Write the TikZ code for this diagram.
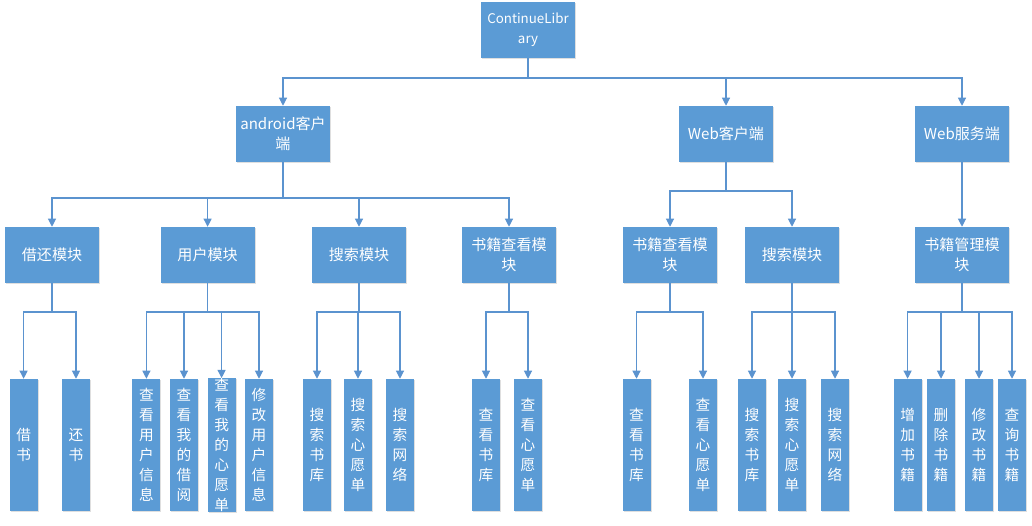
\documentclass[tikz,border=0pt]{standalone}
\usepackage{fontspec}
\setmainfont{Noto Sans CJK SC}
\usetikzlibrary{arrows.meta,shadows}
\definecolor{boxblue}{HTML}{5B9BD5}
\definecolor{lineblue}{HTML}{5B93CF}
\tikzset{
  box/.style={draw=none, fill=boxblue, text=white, inner sep=0pt, align=center,
    minimum width=70.5pt, minimum height=42pt,
    font=\fontsize{11.3}{15}\selectfont,
    drop shadow={shadow xshift=0.8pt, shadow yshift=-0.8pt, opacity=0.25, fill=black!50}},
  leaf/.style={box, minimum width=21pt, minimum height=99pt,
    font=\fontsize{11}{15}\selectfont},
  conn/.style={draw=lineblue, line width=0.8pt},
  arr/.style={conn, -{Triangle[length=6pt,width=6pt]}}
}
\begin{document}
\begin{tikzpicture}[x=0.75pt, y=-0.75pt]
\useasboundingbox (0,0) rectangle (1032,525);
% level 0 and 1
\node[box, font=\fontsize{10}{15}\selectfont] (root) at (528,30) {ContinueLibr\\ary};
\node[box] (and) at (283,134) {android客户\\端};
\node[box] (wc) at (726,134) {Web客户端};
\node[box] (ws) at (962,134) {Web服务端};
% level 2
\node[box] (a1) at (52,255) {借还模块};
\node[box] (a2) at (207.6,255) {用户模块};
\node[box] (a3) at (359,255) {搜索模块};
\node[box] (a4) at (509,255) {书籍查看模\\块};
\node[box] (w1) at (670,255) {书籍查看模\\块};
\node[box] (w2) at (792,255) {搜索模块};
\node[box] (s1) at (962,255) {书籍管理模\\块};
% leaves
\node[leaf] (l1) at (23.6,445) {借\\书};
\node[leaf] (l2) at (76,445) {还\\书};
\node[leaf] (l3) at (146.4,445) {查\\看\\用\\户\\信\\息};
\node[leaf] (l4) at (184,445) {查\\看\\我\\的\\借\\阅};
\node[leaf] (l5) at (221.6,445) {查\\看\\我\\的\\心\\愿\\单};
\node[leaf] (l6) at (259,445) {修\\改\\用\\户\\信\\息};
\node[leaf] (l7) at (317,445) {搜\\索\\书\\库};
\node[leaf] (l8) at (358,445) {搜\\索\\心\\愿\\单};
\node[leaf] (l9) at (400,445) {搜\\索\\网\\络};
\node[leaf] (l10) at (486,445) {查\\看\\书\\库};
\node[leaf] (l11) at (528,445) {查\\看\\心\\愿\\单};
\node[leaf] (l12) at (636.5,445) {查\\看\\书\\库};
\node[leaf] (l13) at (703,445) {查\\看\\心\\愿\\单};
\node[leaf] (l14) at (752,445) {搜\\索\\书\\库};
\node[leaf] (l15) at (792,445) {搜\\索\\心\\愿\\单};
\node[leaf] (l16) at (835,445) {搜\\索\\网\\络};
\node[leaf] (l17) at (907.6,445) {增\\加\\书\\籍};
\node[leaf] (l18) at (941,445) {删\\除\\书\\籍};
\node[leaf] (l19) at (979,445) {修\\改\\书\\籍};
\node[leaf] (l20) at (1012,445) {查\\询\\书\\籍};
% junctions
\coordinate (j0) at (528,78);
\coordinate (ja) at (283,198);
\coordinate (jw) at (726,191);
\coordinate (ja1) at (52,312);
\coordinate (ja2) at (207.6,312);
\coordinate (ja3) at (359,312);
\coordinate (ja4) at (509,312);
\coordinate (jw1) at (670,312);
\coordinate (jw2) at (792,312);
\coordinate (js1) at (962,312);
% connectors
\foreach \t in {and,wc,ws} \draw[arr] (root.south) -- (j0) -| (\t.north);
\foreach \t in {a1,a2,a3,a4} \draw[arr] (and.south) -- (ja) -| (\t.north);
\foreach \t in {w1,w2} \draw[arr] (wc.south) -- (jw) -| (\t.north);
\draw[arr] (ws.south) -- (s1.north);
\foreach \t in {l1,l2} \draw[arr] (a1.south) -- (ja1) -| (\t.north);
\foreach \t in {l3,l4,l5,l6} \draw[arr] (a2.south) -- (ja2) -| (\t.north);
\foreach \t in {l7,l8,l9} \draw[arr] (a3.south) -- (ja3) -| (\t.north);
\foreach \t in {l10,l11} \draw[arr] (a4.south) -- (ja4) -| (\t.north);
\foreach \t in {l12,l13} \draw[arr] (w1.south) -- (jw1) -| (\t.north);
\foreach \t in {l14,l15,l16} \draw[arr] (w2.south) -- (jw2) -| (\t.north);
\foreach \t in {l17,l18,l19,l20} \draw[arr] (s1.south) -- (js1) -| (\t.north);
\end{tikzpicture}
\end{document}
